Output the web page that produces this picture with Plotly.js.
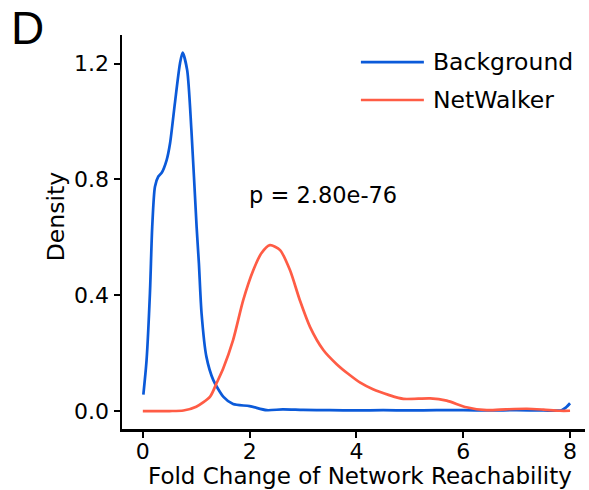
<!DOCTYPE html>
<html>
<head>
<meta charset="utf-8">
<script src="https://cdn.plot.ly/plotly-3.0.1.min.js"></script>
<style>html,body{margin:0;padding:0;background:#fff;}#chart{width:589px;height:490px;}</style>
</head>
<body>
<div id="chart"></div>
<script>
// Series names
const seriesNames = ["Background", "NetWalker"];

// Background density (fold change vs density)
const bgX = [0.01, 0.07, 0.133, 0.176, 0.227, 0.29, 0.35, 0.446, 0.51, 0.60, 0.695, 0.745, 0.83, 0.91, 1.007, 1.05, 1.10, 1.19, 1.32, 1.51, 1.69, 2.0, 2.32, 2.62, 3.0, 3.5, 4.0, 4.5, 5.0, 5.5, 6.0, 6.5, 7.0, 7.5, 7.84, 7.92, 8.0];
const bgY = [0.057, 0.176, 0.407, 0.637, 0.775, 0.81, 0.822, 0.867, 0.925, 1.063, 1.20, 1.238, 1.178, 0.97, 0.637, 0.51, 0.337, 0.188, 0.107, 0.049, 0.024, 0.017, 0.003, 0.006, 0.004, 0.003, 0.002, 0.003, 0.002, 0.003, 0.003, 0.002, 0.003, 0.002, 0.003, 0.012, 0.027];

// NetWalker density
const nwX = [0, 0.5, 0.76, 1.0, 1.26, 1.38, 1.505, 1.69, 1.88, 2.07, 2.22, 2.38, 2.57, 2.755, 2.94, 3.13, 3.38, 3.63, 3.85, 4.08, 4.31, 4.6, 4.88, 5.38, 5.69, 6.06, 6.44, 6.8, 7.19, 7.5, 7.81, 8.0];
const nwY = [0, 0, 0.002, 0.015, 0.05, 0.096, 0.147, 0.245, 0.383, 0.487, 0.545, 0.573, 0.556, 0.487, 0.383, 0.291, 0.211, 0.162, 0.128, 0.097, 0.075, 0.056, 0.042, 0.044, 0.036, 0.013, 0.003, 0.006, 0.008, 0.005, 0.001, 0.001];

// Tick values / labels
const xTicks = [0, 2, 4, 6, 8];
const yTicks = [0.0, 0.4, 0.8, 1.2];
const yTickText = ["0.0", "0.4", "0.8", "1.2"];

const pLabel = "p = 2.80e-76";
const panelLabel = "D";
const xTitle = "Fold Change of Network Reachability";
const yTitle = "Density";

const colors = ["#0b5ad9", "#ff5c45"];
const FONT = "DejaVu Sans, Arial, sans-serif";

const traces = [
  {x: bgX, y: bgY, name: seriesNames[0], type: "scatter", mode: "lines",
   line: {color: colors[0], width: 2.7, shape: "spline", smoothing: 0.7}, showlegend: false},
  {x: nwX, y: nwY, name: seriesNames[1], type: "scatter", mode: "lines",
   line: {color: colors[1], width: 2.7, shape: "spline", smoothing: 0.7}, showlegend: false}
];

const legY = [0.931, 0.835];
const shapes = legY.map((yy, i) => ({
  type: "line", xref: "paper", yref: "paper", x0: 0.516, x1: 0.652, y0: yy, y1: yy,
  line: {color: colors[i], width: 2.7}
}));

const annotations = seriesNames.map((n, i) => ({
  text: n, xref: "paper", yref: "paper", x: 0.668, y: legY[i], xanchor: "left", yanchor: "middle",
  showarrow: false, font: {family: FONT, size: 23.5, color: "#000"}
}));
annotations.push({
  text: pLabel, xref: "x", yref: "y", x: 3.37, y: 0.746, xanchor: "center", yanchor: "middle",
  showarrow: false, font: {family: FONT, size: 22.5, color: "#000"}
});
annotations.push({
  text: panelLabel, xref: "paper", yref: "paper", x: -0.245, y: 1.019, xanchor: "left", yanchor: "middle",
  showarrow: false, font: {family: "Liberation Sans, Arial, sans-serif", size: 46, color: "#000"}
});
// Axis titles placed precisely
annotations.push({
  text: xTitle, xref: "paper", yref: "paper", x: 0.515, y: -0.12, xanchor: "center", yanchor: "middle",
  showarrow: false, font: {family: FONT, size: 23, color: "#000"}
});
annotations.push({
  text: yTitle, xref: "paper", yref: "paper", x: -0.142, y: 0.538, xanchor: "center", yanchor: "middle",
  textangle: -90, showarrow: false, font: {family: FONT, size: 23.5, color: "#000"}
});

const layout = {
  width: 589, height: 490,
  margin: {l: 122, r: 4, t: 35, b: 61},
  paper_bgcolor: "#fff", plot_bgcolor: "#fff",
  showlegend: false,
  font: {family: FONT, size: 22, color: "#000"},
  xaxis: {
    range: [-0.39, 8.28], tickvals: xTicks, ticktext: xTicks.map(String),
    showline: true, linecolor: "#000", linewidth: 2.5, mirror: false,
    ticks: "outside", ticklen: 6, tickwidth: 2, tickcolor: "#000",
    ticklabelstandoff: -5,
    showgrid: false, zeroline: false,
    tickfont: {family: FONT, size: 22, color: "#000"}
  },
  yaxis: {
    range: [-0.062, 1.299], tickvals: yTicks, ticktext: yTickText,
    showline: true, linecolor: "#000", linewidth: 2.5, mirror: false,
    ticks: "outside", ticklen: 6, tickwidth: 2, tickcolor: "#000",
    showgrid: false, zeroline: false,
    tickfont: {family: FONT, size: 22, color: "#000"}
  },
  shapes: shapes,
  annotations: annotations
};

Plotly.newPlot("chart", traces, layout, {staticPlot: true, displayModeBar: false});
</script>
</body>
</html>
